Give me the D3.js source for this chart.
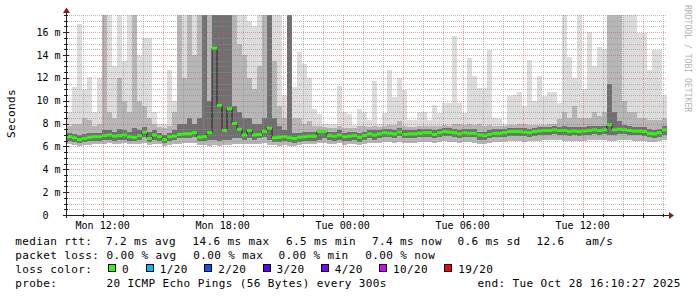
<!DOCTYPE html>
<html><head><meta charset="utf-8">
<script src="https://cdn.jsdelivr.net/npm/d3@7"></script>
<style>
html,body{margin:0;padding:0;background:#fff;}
svg{display:block;}
text{font-family:"DejaVu Sans Mono",monospace;}
</style></head><body><svg id="c" width="697" height="297"></svg>
<script>
// ---- data (15-minute columns) ----
const startTime = "2025-10-27T10:13:00Z";
const endTime = "2025-10-28T16:13:00Z";
const stepMinutes = 15;

const median = [
6.85,6.75,6.6,6.7,6.8,6.85,6.85,6.95,7.0,6.9,6.95,7.0,6.85,6.8,6.95,7.25,6.7,7.0,6.85,6.6,
6.85,6.9,7.05,7.1,7.1,7.2,6.8,6.85,7.2,14.6,9.6,7.4,9.3,8.0,7.5,7.0,7.4,7.0,7.05,7.3,
7.6,6.75,6.8,6.85,6.75,6.7,6.8,6.85,6.9,6.9,7.3,7.3,6.95,6.9,7.0,6.85,6.9,6.95,6.8,6.95,
7.1,7.0,7.1,7.2,7.15,7.1,7.25,7.05,7.1,7.1,7.15,7.2,7.2,7.05,7.2,7.3,7.25,7.2,7.1,7.2,
7.15,7.15,7.0,6.95,7.05,7.15,7.15,7.2,7.3,7.3,7.3,7.25,7.2,7.3,7.35,7.4,7.4,7.45,7.4,7.4,
7.3,7.35,7.3,7.35,7.4,7.45,7.4,7.45,7.9,7.45,7.5,7.45,7.4,7.35,7.35,7.3,7.15,7.1,7.2,7.45];

const smokeLow = [
6.2,6.1,6.0,6.1,6.1,6.2,6.2,6.2,6.3,6.2,6.2,6.3,6.2,6.2,6.2,6.3,6.1,6.2,6.2,6.0,
6.1,6.2,6.2,6.3,6.3,6.3,6.1,6.1,6.0,6.1,6.0,6.1,6.1,6.2,6.2,6.2,6.2,6.2,6.2,6.3,
6.1,6.1,6.0,6.1,6.0,6.0,6.1,6.2,6.2,6.2,6.3,6.3,6.2,6.2,6.3,6.1,6.2,6.2,6.1,6.2,
6.3,6.3,6.3,6.4,6.4,6.3,6.4,6.3,6.3,6.3,6.4,6.4,6.4,6.3,6.4,6.5,6.4,6.4,6.3,6.4,
6.4,6.3,6.2,6.2,6.3,6.4,6.4,6.4,6.5,6.5,6.5,6.4,6.5,6.5,6.5,6.6,6.6,6.6,6.6,6.5,
6.5,6.5,6.5,6.5,6.6,6.6,6.6,6.6,6.5,6.5,6.6,6.6,6.6,6.5,6.5,6.5,6.4,6.4,6.5,6.6];

const darkLow = [
6.5,6.4,6.3,6.4,6.5,6.5,6.5,6.6,6.6,6.5,6.6,6.6,6.5,6.5,6.6,6.8,6.4,6.6,6.5,6.3,
6.5,6.6,6.7,6.7,6.7,6.8,6.5,6.5,6.6,6.6,6.5,6.6,6.6,6.7,6.7,6.6,6.7,6.6,6.7,6.8,
6.6,6.4,6.4,6.5,6.4,6.3,6.4,6.5,6.5,6.5,6.6,6.7,6.6,6.5,6.6,6.5,6.5,6.6,6.4,6.6,
6.7,6.6,6.7,6.8,6.8,6.7,6.9,6.7,6.7,6.7,6.8,6.8,6.8,6.7,6.8,6.9,6.9,6.8,6.7,6.8,
6.8,6.8,6.6,6.6,6.7,6.8,6.8,6.8,6.9,6.9,6.9,6.9,6.8,6.9,7.0,7.0,7.0,7.1,7.0,7.0,
6.9,7.0,6.9,7.0,7.0,7.1,7.0,7.1,7.0,7.0,7.1,7.1,7.0,7.0,7.0,6.9,6.8,6.7,6.8,7.0];

const darkTop = [
7.2,7.1,7.0,7.1,7.2,7.2,7.2,7.4,7.4,7.3,7.5,7.4,7.3,7.6,7.4,7.7,7.3,7.4,7.2,7.0,
7.2,7.4,8.0,8.0,8.5,8.0,8.5,17.5,10.0,17.5,17.5,17.5,17.5,9.5,9.0,8.5,8.5,8.0,8.0,8.5,
17.5,8.5,7.8,7.4,17.5,7.2,7.2,7.3,7.3,7.3,7.4,7.4,7.3,7.3,7.4,7.2,7.3,7.3,7.2,7.3,
7.4,7.4,7.4,7.5,7.5,7.4,7.6,7.4,7.4,7.4,7.5,7.5,7.5,7.4,7.5,7.6,7.6,7.5,7.4,7.5,
7.5,7.5,7.3,7.3,7.4,7.5,7.5,7.5,7.6,7.6,7.6,7.6,7.5,7.6,7.7,7.7,7.7,7.8,7.7,7.8,
7.7,7.7,7.7,7.7,7.8,7.8,7.8,7.8,11.5,9.0,8.2,7.9,7.8,7.7,7.7,7.7,7.5,7.4,7.5,7.8];

const midTop = [
7.8,8.0,8.0,8.5,8.3,7.8,8.0,17.5,9.0,8.5,12.0,10.0,9.0,17.5,10.0,9.5,8.5,8.0,7.7,7.6,
7.8,9.0,17.5,12.0,17.5,14.0,17.5,17.5,17.5,17.5,17.5,17.5,17.5,17.5,15.0,14.0,12.0,11.0,13.0,17.5,
17.5,13.5,9.5,8.5,17.5,8.5,8.5,8.0,8.2,7.8,7.8,7.7,7.6,7.6,7.8,7.6,7.6,7.6,7.8,7.8,
7.7,7.8,7.7,7.8,7.9,7.9,8.2,7.8,7.7,7.7,7.8,7.8,7.8,7.8,7.8,7.9,7.8,8.0,8.0,7.9,
8.0,7.9,8.0,7.8,7.9,7.8,7.8,7.8,7.9,7.9,8.0,8.0,7.9,7.9,7.9,7.9,8.0,8.0,8.4,9.0,
8.5,9.5,8.5,8.5,8.5,9.0,8.7,9.0,17.5,17.5,17.5,10.0,9.0,9.0,8.5,8.5,8.3,8.3,8.3,8.5];

const smokeTop = [
9.0,11.2,16.7,11.0,12.1,9.0,12.0,17.5,17.5,13.0,17.5,13.5,17.5,17.5,14.0,15.5,15.5,9.0,8.0,8.0,
12.7,10.0,17.5,17.5,17.5,17.5,17.5,17.5,17.5,17.5,17.5,17.5,17.5,17.5,17.5,17.5,17.0,16.5,17.5,17.5,
17.5,17.5,17.5,10.5,17.5,11.2,14.3,13.2,12.0,9.3,8.8,8.0,8.0,8.0,11.3,9.0,8.8,7.9,9.3,9.0,
8.3,11.7,8.0,8.9,12.7,10.3,12.0,10.9,8.3,8.3,9.0,9.0,8.3,9.6,8.9,9.8,9.8,15.7,9.8,8.9,
13.7,12.2,11.1,11.1,14.4,8.5,8.4,8.0,10.4,10.5,10.8,9.5,13.6,10.0,12.2,10.4,10.8,10.8,9.8,17.5,
13.8,12.0,17.5,11.0,16.0,13.0,14.7,14.5,17.5,17.5,17.5,17.5,17.5,17.5,15.9,15.9,12.7,14.4,14.4,10.5];

const yMax = 17.5;
const yMajorTicks = [0,2,4,6,8,10,12,14,16];

const rttLabel = "median rtt:";
const rttStats = ["7.2 ms avg","14.6 ms max","6.5 ms min","7.4 ms now","0.6 ms sd","12.6","am/s"];
const lossLabel = "packet loss:";
const lossStats = ["0.00 % avg","0.00 % max","0.00 % min","0.00 % now"];
const colorLabel = "loss color:";
const lossLevels = ["0","1/20","2/20","3/20","4/20","10/20","19/20"];
const lossColors = ["#26ff00","#00b8ff","#0059ff","#5e00ff","#7e00ff","#dd00ff","#ff0000"];
const probeLabel = "probe:";
const probeText = "20 ICMP Echo Pings (56 Bytes) every 300s";
const endText = "end: Tue Oct 28 16:10:27 2025";
const yTitle = "Seconds";
const watermark = "RRDTOOL / TOBI OETIKER";

// ---- layout ----
const L = 67, R = 667, T = 15, B = 215;
const svg = d3.select("#c");
svg.append("rect").attr("width",697).attr("height",297).attr("fill","#fff");

const t0 = new Date(startTime), t1 = new Date(endTime);
const x = d3.scaleUtc().domain([t0,t1]).range([L,R]);
const y = d3.scaleLinear().domain([0,yMax]).range([B,T]).clamp(true);

const cols = median.map((m,i)=>({
  i, a: d3.utcMinute.offset(t0, stepMinutes*i), b: d3.utcMinute.offset(t0, stepMinutes*(i+1)),
  med:m, lo:smokeLow[i], lo2:darkLow[i], dk:darkTop[i], md:midTop[i], hi:smokeTop[i]
}));

const g = svg.append("g");
function band(cls, lowKey, highKey, color){
  g.selectAll("rect."+cls).data(cols).join("rect").attr("class",cls)
    .attr("x",d=>x(d.a)).attr("width",d=>x(d.b)-x(d.a)+0.02)
    .attr("y",d=>y(d[highKey])).attr("height",d=>Math.max(0,y(d[lowKey])-y(d[highKey])))
    .attr("fill",color).attr("shape-rendering","crispEdges");
}
band("s1","lo","hi","#dddddd");
band("s2","lo","md","#b6b6b6");
band("s3","lo2","dk","#707070");

// median dark line (step)
const pts = cols.map(d=>[x(d.a), y(d.med)]);
pts.push([x(cols[cols.length-1].b), y(cols[cols.length-1].med)]);
g.append("path").attr("d", d3.line().curve(d3.curveStepAfter)(pts))
  .attr("fill","none").attr("stroke","#202020").attr("stroke-width",1);
// loss-coloured median marks
g.selectAll("rect.med").data(cols).join("rect").attr("class","med")
  .attr("x",d=>x(d.a)).attr("width",d=>x(d.b)-x(d.a))
  .attr("y",d=>y(d.med)-1.5).attr("height",3).attr("fill",lossColors[0]);

// ---- grid (on top, dotted) ----
const grid = svg.append("g").attr("shape-rendering","crispEdges");
const minorY = d3.range(0, yMax+0.001, 0.5).filter(v=>v%2!==0);
grid.selectAll("line.gy").data(minorY).join("line")
  .attr("x1",L).attr("x2",R).attr("y1",d=>Math.round(y(d))+0.5).attr("y2",d=>Math.round(y(d))+0.5)
  .attr("stroke","rgba(143,143,143,0.6)").attr("stroke-dasharray","1,1");
const minorX = x.ticks(d3.utcHour.every(1)).filter(t=>t.getUTCHours()%3!==0);
grid.selectAll("line.gx").data(minorX).join("line")
  .attr("y1",T).attr("y2",B).attr("x1",d=>Math.round(x(d))+0.5).attr("x2",d=>Math.round(x(d))+0.5)
  .attr("stroke","rgba(143,143,143,0.6)").attr("stroke-dasharray","1,1");
grid.selectAll("line.my").data(yMajorTicks.filter(v=>v>0)).join("line")
  .attr("x1",L).attr("x2",R).attr("y1",d=>Math.round(y(d))+0.5).attr("y2",d=>Math.round(y(d))+0.5)
  .attr("stroke","rgba(222,79,79,0.55)").attr("stroke-dasharray","1,1");
const majorX = x.ticks(d3.utcHour.every(3));
grid.selectAll("line.mx").data(majorX).join("line")
  .attr("y1",T).attr("y2",B).attr("x1",d=>Math.round(x(d))+0.5).attr("x2",d=>Math.round(x(d))+0.5)
  .attr("stroke","rgba(222,79,79,0.55)").attr("stroke-dasharray","1,1");

// ---- axes ----
const ax = svg.append("g").attr("shape-rendering","crispEdges");
const axisColor = "#202020", arrowColor = "#801f1f";
ax.append("line").attr("x1",L-0.5).attr("x2",L-0.5).attr("y1",B+3).attr("y2",11).attr("stroke",axisColor);
ax.append("line").attr("x1",L-4).attr("x2",670).attr("y1",B+0.5).attr("y2",B+0.5).attr("stroke",axisColor);
ax.selectAll("line.ty").data(yMajorTicks).join("line")
  .attr("x1",L-4).attr("x2",L+2).attr("y1",d=>Math.round(y(d))+0.5).attr("y2",d=>Math.round(y(d))+0.5)
  .attr("stroke",axisColor);
ax.selectAll("line.tym").data(minorY).join("line")
  .attr("x1",L-3).attr("x2",L+1).attr("y1",d=>Math.round(y(d))+0.5).attr("y2",d=>Math.round(y(d))+0.5)
  .attr("stroke",axisColor);
ax.selectAll("line.tx").data(majorX).join("line")
  .attr("y1",B-2).attr("y2",B+3).attr("x1",d=>Math.round(x(d))+0.5).attr("x2",d=>Math.round(x(d))+0.5)
  .attr("stroke",axisColor);
ax.selectAll("line.txm").data(minorX).join("line")
  .attr("y1",B-1).attr("y2",B+2).attr("x1",d=>Math.round(x(d))+0.5).attr("x2",d=>Math.round(x(d))+0.5)
  .attr("stroke",axisColor);
svg.append("path").attr("d",`M${L-0.5},7.5 L${L-4},13 L${L+3},13 Z`).attr("fill",arrowColor);
svg.append("path").attr("d",`M674,${B+0.5} L669,${B-3} L669,${B+4} Z`).attr("fill",arrowColor);

// tick labels
svg.selectAll("text.yl").data(yMajorTicks).join("text")
  .attr("x",60.5).attr("y",d=>y(d)+3.6).attr("text-anchor","end")
  .style("white-space","pre").attr("xml:space","preserve")
  .attr("font-size",10).attr("fill","#000")
  .text(d=> d===0 ? "0  " : d+" m");
const labelTimes = x.ticks(d3.utcHour.every(6));
const fmt = d3.utcFormat("%a %H:%M");
svg.selectAll("text.xl").data(labelTimes).join("text")
  .attr("x",d=>x(d)).attr("y",228.6).attr("text-anchor","middle")
  .attr("font-size",10).attr("fill","#000").text(d=>fmt(d));

// titles
svg.append("text").attr("transform","translate(15,113.5) rotate(-90)").attr("text-anchor","middle")
  .attr("font-size",11).attr("letter-spacing",0.38).attr("fill","#000").text(yTitle);
svg.append("text").attr("transform","translate(685,5) rotate(90)")
  .attr("font-size",8.1).attr("fill","#b4b4b4").text(watermark);

// ---- legend ----
const lg = svg.append("g").attr("font-size",11).attr("letter-spacing",0.38).attr("fill","#000");
const line1 = [rttLabel].concat(rttStats), x1 = [15.3,106,192.6,286,372,457.6,536.6,585.3];
line1.forEach((s,i)=>lg.append("text").attr("x",x1[i]).attr("y",244.5).text(s));
const line2 = [lossLabel].concat(lossStats), x2 = [15.3,106.6,193.3,278.6,365.3];
line2.forEach((s,i)=>lg.append("text").attr("x",x2[i]).attr("y",258.6).text(s));
lg.append("text").attr("x",15.3).attr("y",272.7).text(colorLabel);
let bx = 108.3;
lossLevels.forEach((s,i)=>{
  lg.append("rect").attr("x",Math.round(bx)+0.5).attr("y",264.5).attr("width",7).attr("height",7)
    .attr("fill",lossColors[i]).attr("stroke","#000").attr("stroke-width",1);
  lg.append("text").attr("x",bx+13.8).attr("y",272.7).text(s);
  bx += 30.9 + 6.85*s.length;
});
lg.append("text").attr("x",15.3).attr("y",286.8).text(probeLabel);
lg.append("text").attr("x",106.6).attr("y",286.8).text(probeText);
lg.append("text").attr("x",477.6).attr("y",286.8).text(endText);
</script></body></html>
